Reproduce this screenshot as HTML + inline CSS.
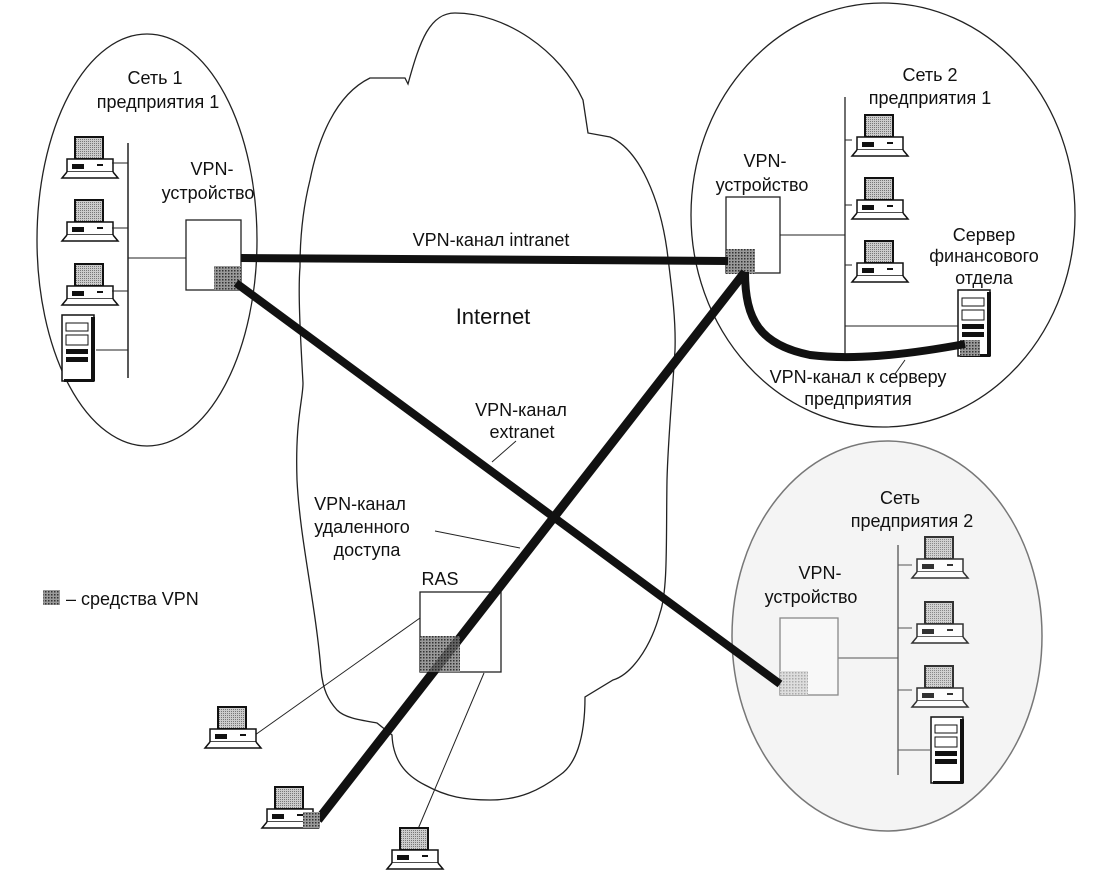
<!DOCTYPE html>
<html><head><meta charset="utf-8"><style>
html,body{margin:0;padding:0;background:#fff}
svg{display:block}
text{font-family:"Liberation Sans",Arial,sans-serif;font-size:18px;fill:#111}
</style></head><body>
<svg width="1099" height="877" viewBox="0 0 1099 877" xmlns="http://www.w3.org/2000/svg">
<defs>
<pattern id="h" width="3" height="3" patternUnits="userSpaceOnUse">
<rect width="3" height="3" fill="#9a9a9a"/><rect width="1.5" height="1.5" fill="#333"/></pattern>
<pattern id="hl" width="3" height="3" patternUnits="userSpaceOnUse">
<rect width="3" height="3" fill="#ddd"/><rect width="1.5" height="1.5" fill="#aaa"/></pattern>
<pattern id="m" width="2" height="2" patternUnits="userSpaceOnUse">
<rect width="2" height="2" fill="#ccc"/><rect width="1" height="1" fill="#777"/></pattern>
<g id="pc">
<rect x="13" y="0" width="28" height="22" fill="url(#m)" stroke="#111" stroke-width="2"/>
<rect x="5" y="22" width="46" height="13" fill="#fff" stroke="#111" stroke-width="1.5"/>
<rect x="10" y="27" width="12" height="5" fill="#111"/>
<rect x="35" y="27" width="6" height="2" fill="#111"/>
<path d="M5 35 L0 41 L56 41 L51 35" fill="#fff" stroke="#111" stroke-width="1.5"/>
</g>
<g id="srv">
<rect x="0" y="0" width="32" height="66" fill="#fff" stroke="#111" stroke-width="1.5"/>
<rect x="29" y="2" width="4" height="64" fill="#111"/>
<rect x="4" y="8" width="22" height="8" fill="none" stroke="#111"/>
<rect x="4" y="20" width="22" height="10" fill="none" stroke="#111"/>
<rect x="4" y="34" width="22" height="5" fill="#111"/>
<rect x="4" y="42" width="22" height="5" fill="#111"/>
<rect x="2" y="64" width="30" height="3" fill="#111"/>
</g>
</defs>

<ellipse cx="147" cy="240" rx="110" ry="206" fill="none" stroke="#222" stroke-width="1.3"/>
<ellipse cx="883" cy="215" rx="192" ry="212" fill="none" stroke="#222" stroke-width="1.3"/>
<ellipse cx="887" cy="636" rx="155" ry="195" fill="#f4f4f4" stroke="#777" stroke-width="1.5"/>

<path d="M297 480 C295 420 303 400 303 383 C300 330 298 290 300 267 C300 230 305 200 310 180 C318 140 335 95 370 78 L405 78 L408 84 C420 40 430 13 455 13 C505 13 560 50 583 100 L588 133 L610 137 C640 150 660 200 667 250 C672 290 676 320 675 350 C672 400 668 440 667 480 C666 540 668 590 660 613 C650 650 630 675 613 680 L585 697 C585 740 575 765 560 775 C540 790 520 800 490 800 C465 800 447 797 425 785 C405 775 393 760 392 735 L377 723 C360 720 345 718 337 710 C328 700 323 690 321 670 C315 600 300 540 297 480 Z" fill="none" stroke="#222" stroke-width="1.3"/>

<line x1="128" y1="143" x2="128" y2="378" stroke="#222" stroke-width="1.5"/>
<use href="#pc" x="62" y="137"/>
<use href="#pc" x="62" y="200"/>
<use href="#pc" x="62" y="264"/>
<use href="#srv" x="62" y="315"/>
<line x1="112" y1="163" x2="128" y2="163" stroke="#222"/>
<line x1="112" y1="228" x2="128" y2="228" stroke="#222"/>
<line x1="112" y1="291" x2="128" y2="291" stroke="#222"/>
<line x1="96" y1="350" x2="128" y2="350" stroke="#222"/>
<line x1="128" y1="258" x2="186" y2="258" stroke="#222"/>
<rect x="186" y="220" width="55" height="70" fill="#fff" stroke="#222" stroke-width="1.3"/>
<rect x="214" y="266" width="27" height="24" fill="url(#h)"/>
<text x="155" y="84" text-anchor="middle">Сеть 1</text>
<text x="158" y="108" text-anchor="middle">предприятия 1</text>
<text x="212" y="175" text-anchor="middle">VPN-</text>
<text x="208" y="199" text-anchor="middle">устройство</text>

<line x1="845" y1="97" x2="845" y2="355" stroke="#222" stroke-width="1.3"/>
<use href="#pc" x="852" y="115"/>
<use href="#pc" x="852" y="178"/>
<use href="#pc" x="852" y="241"/>
<use href="#srv" x="958" y="290"/>
<line x1="845" y1="140" x2="852" y2="140" stroke="#222"/>
<line x1="845" y1="205" x2="852" y2="205" stroke="#222"/>
<line x1="845" y1="265" x2="852" y2="265" stroke="#222"/>
<line x1="845" y1="326" x2="958" y2="326" stroke="#222"/>
<line x1="780" y1="235" x2="845" y2="235" stroke="#222"/>
<rect x="726" y="197" width="54" height="76" fill="#fff" stroke="#222" stroke-width="1.3"/>
<rect x="726" y="249" width="29" height="25" fill="url(#h)"/>
<rect x="960" y="340" width="20" height="16" fill="url(#h)"/>
<path d="M745 272 C745 320 760 345 810 355 C850 360 900 356 965 344" fill="none" stroke="#111" stroke-width="8"/>
<line x1="895" y1="374" x2="905" y2="360" stroke="#222"/>
<text x="930" y="81" text-anchor="middle">Сеть 2</text>
<text x="930" y="104" text-anchor="middle">предприятия 1</text>
<text x="765" y="167" text-anchor="middle">VPN-</text>
<text x="762" y="191" text-anchor="middle">устройство</text>
<text x="984" y="241" text-anchor="middle">Сервер</text>
<text x="984" y="262" text-anchor="middle">финансового</text>
<text x="984" y="284" text-anchor="middle">отдела</text>
<text x="858" y="383" text-anchor="middle">VPN-канал к серверу</text>
<text x="858" y="405" text-anchor="middle">предприятия</text>

<line x1="898" y1="545" x2="898" y2="775" stroke="#555" stroke-width="1.3"/>
<use href="#pc" x="912" y="537" opacity="0.85"/>
<use href="#pc" x="912" y="602" opacity="0.85"/>
<use href="#pc" x="912" y="666" opacity="0.85"/>
<use href="#srv" x="931" y="717"/>
<line x1="898" y1="565" x2="912" y2="565" stroke="#555"/>
<line x1="898" y1="628" x2="912" y2="628" stroke="#555"/>
<line x1="898" y1="690" x2="912" y2="690" stroke="#555"/>
<line x1="898" y1="750" x2="931" y2="750" stroke="#555"/>
<line x1="838" y1="658" x2="898" y2="658" stroke="#555"/>
<rect x="780" y="618" width="58" height="77" fill="#f8f8f8" stroke="#888" stroke-width="1.3"/>
<rect x="780" y="671" width="28" height="24" fill="url(#hl)"/>
<text x="900" y="504" text-anchor="middle">Сеть</text>
<text x="912" y="527" text-anchor="middle">предприятия 2</text>
<text x="820" y="579" text-anchor="middle">VPN-</text>
<text x="811" y="603" text-anchor="middle">устройство</text>

<rect x="420" y="592" width="81" height="80" fill="#fff" stroke="#222" stroke-width="1.3"/>
<rect x="420" y="636" width="40" height="36" fill="url(#h)"/>
<line x1="420" y1="618" x2="255" y2="735" stroke="#222"/>
<line x1="484" y1="673" x2="418" y2="829" stroke="#222"/>

<line x1="241" y1="258" x2="728" y2="261" stroke="#111" stroke-width="8"/>
<line x1="236" y1="283" x2="780" y2="684" stroke="#111" stroke-width="8"/>
<line x1="745" y1="272" x2="318" y2="820" stroke="#111" stroke-width="9"/>
<rect x="420" y="636" width="40" height="36" fill="url(#h)" opacity="0.6"/>

<use href="#pc" x="205" y="707"/>
<use href="#pc" x="262" y="787"/>
<rect x="303" y="812" width="17" height="16" fill="url(#h)"/>
<use href="#pc" x="387" y="828"/>
<text x="440" y="585" text-anchor="middle">RAS</text>

<text x="491" y="246" text-anchor="middle">VPN-канал intranet</text>
<text x="493" y="324" text-anchor="middle" style="font-size:22px">Internet</text>
<text x="521" y="416" text-anchor="middle">VPN-канал</text>
<text x="522" y="438" text-anchor="middle">extranet</text>
<line x1="516" y1="441" x2="492" y2="462" stroke="#222"/>
<text x="360" y="510" text-anchor="middle">VPN-канал</text>
<text x="362" y="533" text-anchor="middle">удаленного</text>
<text x="367" y="556" text-anchor="middle">доступа</text>
<line x1="435" y1="531" x2="520" y2="548" stroke="#222"/>

<rect x="43" y="590" width="17" height="15" fill="url(#h)"/>
<text x="66" y="605">– средства VPN</text>
</svg>
</body></html>
